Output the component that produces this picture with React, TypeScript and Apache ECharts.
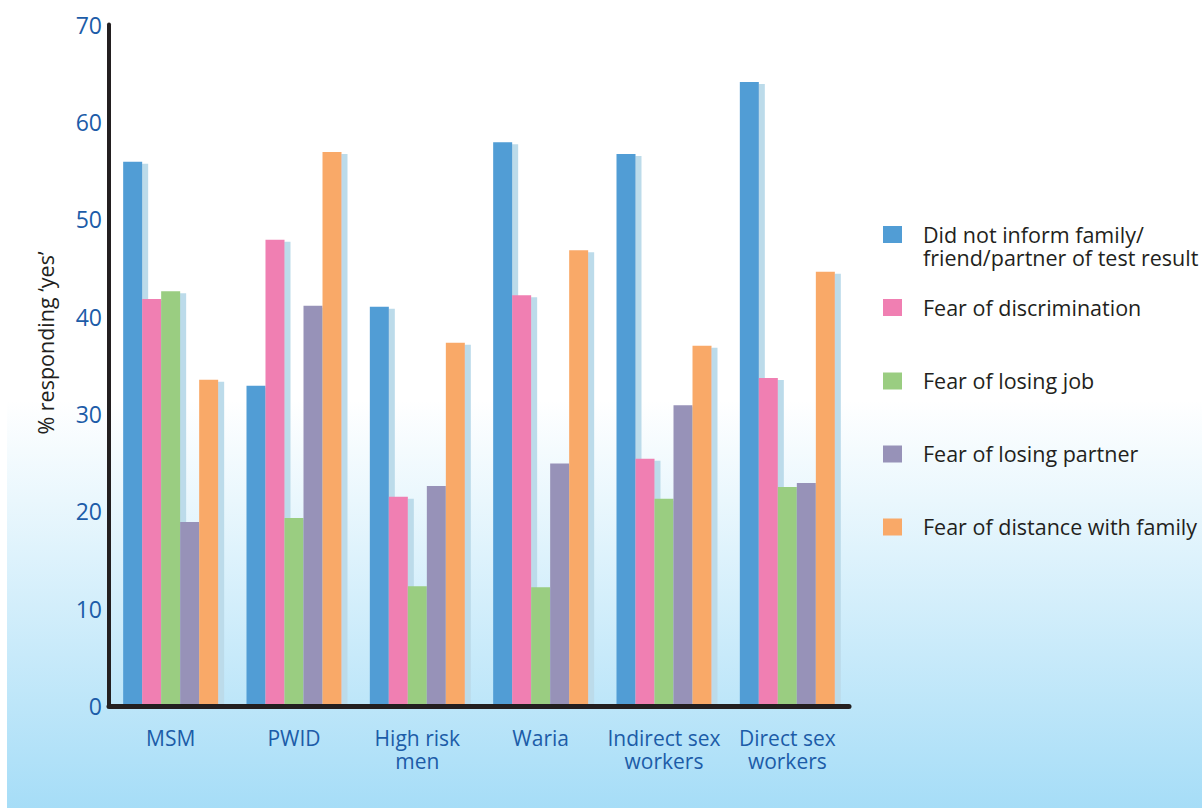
import React, { useEffect, useRef } from "react";
import * as echarts from "echarts";

const categories = ["MSM", "PWID", "High risk\nmen", "Waria", "Indirect sex\nworkers", "Direct sex\nworkers"];
const seriesNames = [
  "Did not inform family/\nfriend/partner of test result",
  "Fear of discrimination",
  "Fear of losing job",
  "Fear of losing partner",
  "Fear of distance with family",
];
const didNotInform = [55.9, 32.9, 41.0, 57.9, 56.7, 64.1];
const fearDiscrimination = [41.8, 47.9, 21.5, 42.2, 25.4, 33.7];
const fearLosingJob = [42.6, 19.3, 12.3, 12.2, 21.3, 22.5];
const fearLosingPartner = [18.9, 41.1, 22.6, 24.9, 30.9, 22.9];
const fearDistanceFamily = [33.5, 56.9, 37.3, 46.8, 37.0, 44.6];
const seriesValues = [didNotInform, fearDiscrimination, fearLosingJob, fearLosingPartner, fearDistanceFamily];
const colors = ["#519dd5", "#f07fb2", "#9acd81", "#9792b8", "#f9a968"];
const yTicks = [0, 10, 20, 30, 40, 50, 60, 70];

const FONT = "'Open Sans', sans-serif";
const BLUE_TEXT = "#1c5ca8";
const DARK_TEXT = "#231f20";

export default function App() {
  const ref = useRef<HTMLDivElement>(null);

  useEffect(() => {
    document.body.style.margin = "0";
    if (!ref.current) return;
    const chart = echarts.init(ref.current, undefined, { renderer: "svg" });

    const legendCenters = [234.5, 307.5, 381, 454, 527];
    const legendGraphics: any[] = [];
    seriesNames.forEach((name, i) => {
      legendGraphics.push({
        type: "rect",
        shape: { x: 883, y: legendCenters[i] - 8.5, width: 19, height: 17 },
        style: { fill: colors[i] },
      });
      legendGraphics.push({
        type: "text",
        x: 923,
        y: legendCenters[i] - 12,
        style: {
          text: name,
          fill: DARK_TEXT,
          font: `21.5px ${FONT}`,
          lineHeight: 23,
          verticalAlign: "top",
          align: "left",
        },
      });
    });

    chart.setOption({
      animation: false,
      backgroundColor: "transparent",
      grid: { left: 109, width: 740, top: 24.5, bottom: 102, containLabel: false },
      xAxis: {
        type: "category",
        data: categories,
        z: 5,
        axisLine: { show: true, lineStyle: { color: "#231f20", width: 5 } },
        axisTick: { show: false },
        axisLabel: {
          color: BLUE_TEXT,
          fontFamily: FONT,
          fontSize: 21,
          lineHeight: 23,
          margin: 20,
          interval: 0,
          align: "center",
        },
      },
      yAxis: {
        type: "value",
        min: 0,
        max: 70,
        interval: 10,
        z: 5,
        axisLine: { show: true, lineStyle: { color: "#231f20", width: 4 } },
        axisTick: { show: false },
        splitLine: { show: false },
        axisLabel: {
          color: BLUE_TEXT,
          fontFamily: FONT,
          fontSize: 23,
          margin: 7,
          formatter: (v: number) => (yTicks.includes(v) ? String(v) : ""),
        },
      },
      series: seriesValues.map((vals, i) => ({
        type: "bar",
        name: seriesNames[i],
        data: vals,
        barWidth: 19,
        barGap: "0%",
        itemStyle: {
          color: colors[i],
          shadowColor: "#bcdbea",
          shadowBlur: 0,
          shadowOffsetX: 6,
          shadowOffsetY: 2,
        },
        emphasis: { disabled: true },
      })),
      graphic: [
        {
          type: "text",
          x: 45,
          y: 343,
          rotation: Math.PI / 2,
          style: {
            text: "% responding \u2018yes\u2019",
            fill: DARK_TEXT,
            font: `21.5px ${FONT}`,
            align: "center",
            verticalAlign: "middle",
          },
        },
        ...legendGraphics,
      ],
    });

    return () => chart.dispose();
  }, []);

  return (
    <div style={{ position: "relative", width: 1202, height: 808, background: "#ffffff", overflow: "hidden" }}>
      <div
        style={{
          position: "absolute",
          left: 7,
          top: 400,
          right: 0,
          bottom: 0,
          background: "linear-gradient(to bottom, #ffffff 0px, #eaf7fd 100px, #a6ddf7 408px)",
        }}
      />
      <div ref={ref} style={{ position: "absolute", left: 0, top: 0, width: 1202, height: 808 }} />
    </div>
  );
}
